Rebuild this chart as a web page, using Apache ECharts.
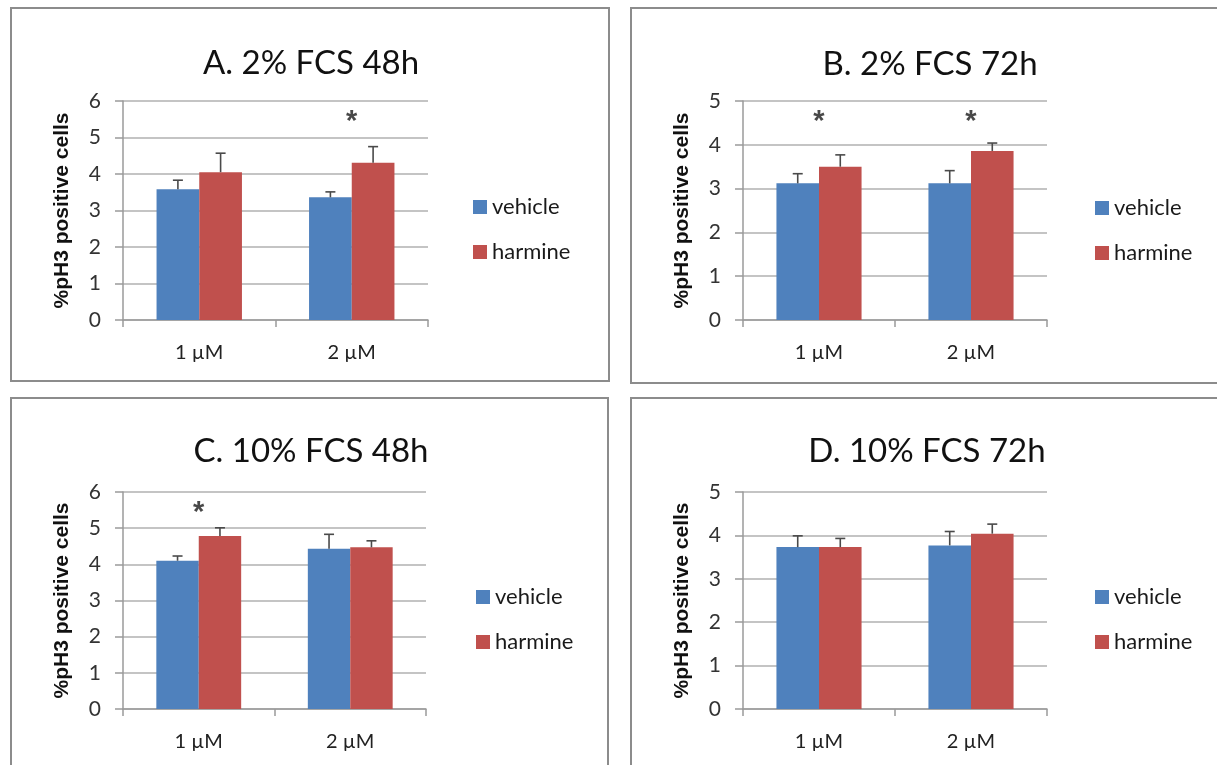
<!DOCTYPE html>
<html>
<head>
<meta charset="utf-8">
<script src="https://cdn.jsdelivr.net/npm/echarts@6/dist/echarts.min.js"></script>
<style>
  html, body { margin: 0; padding: 0; background: #fff; }
  #main { width: 1217px; height: 765px; }
</style>
</head>
<body>
<div id="main"></div>
<script>
// data
var categories = ['1 µM', '2 µM'];
var panelTitles = ['A. 2% FCS 48h', 'B. 2% FCS 72h', 'C. 10% FCS 48h', 'D. 10% FCS 72h'];
var yMax = [6, 5, 6, 5];
var vehicleMean = [[3.58, 3.36], [3.12, 3.12], [4.10, 4.43], [3.73, 3.77]];
var vehicleErr = [[0.25, 0.15], [0.22, 0.29], [0.13, 0.40], [0.26, 0.32]];
var harmineMean = [[4.05, 4.31], [3.50, 3.86], [4.78, 4.47], [3.73, 4.04]];
var harmineErr = [[0.52, 0.44], [0.27, 0.18], [0.23, 0.18], [0.20, 0.22]];
// significance stars: y position per category (null = no star)
var starY = [[null, 5.55], [4.64, 4.64], [5.57, null], [null, null]];

var BLUE = '#4F81BD', RED = '#C0504D';
var calibriLike = 'Lato, "Open Sans", sans-serif';

// layout of each panel (pixels)
var grids = [
  { left: 123, top: 101, width: 305, height: 219 },
  { left: 743, top: 101, width: 304, height: 219 },
  { left: 123, top: 492, width: 303, height: 217 },
  { left: 743, top: 492, width: 304, height: 217 }
];
var titlePos = [[306, 42], [925, 43], [306, 430], [922, 430]];
var legendPos = [[468, 191], [1090, 192], [471, 581], [1090, 581]];
var boxes = [[11, 8, 598, 373], [631, 8, 600, 375], [11, 398, 597, 400], [631, 398, 600, 400]];

var chart = echarts.init(document.getElementById('main'));

//error bar drawn above the bar, shifted to the bar's centre
function errRender(side) {
  return function (params, api) {
    var idx = api.value(0);
    var lo = api.coord([idx, api.value(1)]);
    var hi = api.coord([idx, api.value(2)]);
    var bw = api.size([1, 0])[0];
    var cx = lo[0] + side * bw * 0.14;
    var cap = 5;
    var st = { stroke: '#4a4a4a', lineWidth: 1.6 };
    return {
      type: 'group',
      children: [
        { type: 'line', shape: { x1: cx, y1: lo[1], x2: cx, y2: hi[1] }, style: st },
        { type: 'line', shape: { x1: cx - cap, y1: hi[1], x2: cx + cap, y2: hi[1] }, style: st }
      ]
    };
  };
}

var option = {
  animation: false,
  backgroundColor: '#fff',
  title: [],
  legend: [],
  grid: [],
  xAxis: [],
  yAxis: [],
  series: [],
  graphic: []
};

for (let i = 0; i < 4; i++) {
  option.grid.push(Object.assign({ outerBoundsMode: 'none', containLabel: false }, grids[i]));
  option.title.push({
    text: panelTitles[i],
    left: titlePos[i][0],
    top: titlePos[i][1],
    textAlign: 'center',
    textStyle: { fontFamily: calibriLike, fontSize: 33, fontWeight: 'normal', color: '#111' }
  });
  option.legend.push({
    data: ['vehicle', 'harmine'],
    orient: 'vertical',
    left: legendPos[i][0],
    top: legendPos[i][1],
    icon: 'rect',
    itemWidth: 14,
    itemHeight: 14,
    itemGap: 23,
    selectedMode: false,
    textStyle: { fontFamily: calibriLike, fontSize: 22, color: '#1a1a1a' }
  });
  option.xAxis.push({
    type: 'category',
    gridIndex: i,
    data: categories,
    axisLine: { lineStyle: { color: '#9a9a9a', width: 1.5 } },
    axisTick: { show: true, length: 7, lineStyle: { color: '#9a9a9a', width: 1.5 } },
    axisLabel: { margin: 23, fontFamily: calibriLike, fontSize: 20, color: '#222' },
    splitLine: { show: false }
  });
  option.yAxis.push({
    type: 'value',
    gridIndex: i,
    min: 0,
    max: yMax[i],
    interval: 1,
    name: '%pH3 positive cells',
    nameLocation: 'middle',
    nameGap: 50,
    nameTextStyle: { fontFamily: '"Liberation Sans", Arial, sans-serif', fontWeight: 'bold', fontSize: 21, color: '#111' },
    axisLine: { show: true, lineStyle: { color: '#9a9a9a', width: 1.5 } },
    axisTick: { show: true, length: 8, lineStyle: { color: '#9a9a9a', width: 1.5 } },
    axisLabel: { margin: 22, fontFamily: calibriLike, fontSize: 21, color: '#333' },
    splitLine: { show: true, lineStyle: { color: '#b0b0b0', width: 1.6 } }
  });

  option.series.push({
    name: 'vehicle', type: 'bar', xAxisIndex: i, yAxisIndex: i,
    data: vehicleMean[i], itemStyle: { color: BLUE },
    barGap: '0%', barCategoryGap: '44%'
  });
  option.series.push({
    name: 'harmine', type: 'bar', xAxisIndex: i, yAxisIndex: i,
    data: harmineMean[i], itemStyle: { color: RED },
    barGap: '0%', barCategoryGap: '44%'
  });
  option.series.push({
    name: 'vehicle-err-' + i, type: 'custom', xAxisIndex: i, yAxisIndex: i, z: 5,
    renderItem: errRender(-1),
    encode: { x: 0, y: [1, 2] },
    data: vehicleMean[i].map((m, k) => [k, m, m + vehicleErr[i][k]])
  });
  option.series.push({
    name: 'harmine-err-' + i, type: 'custom', xAxisIndex: i, yAxisIndex: i, z: 5,
    renderItem: errRender(1),
    encode: { x: 0, y: [1, 2] },
    data: harmineMean[i].map((m, k) => [k, m, m + harmineErr[i][k]])
  });

  var stars = [];
  starY[i].forEach((v, k) => { if (v != null) stars.push([k, v]); });
  if (stars.length) {
    option.series.push({
      name: 'star-' + i, type: 'scatter', xAxisIndex: i, yAxisIndex: i, z: 6,
      symbolSize: 1,
      itemStyle: { color: 'rgba(0,0,0,0)' },
      label: {
        show: true, position: 'inside', formatter: '*',
        fontFamily: '"Liberation Sans", Arial, sans-serif', fontSize: 29, fontWeight: 'bold', color: '#1a1a1a',
        offset: [0, 5]
      },
      data: stars
    });
  }

  option.graphic.push({
    type: 'rect',
    shape: { x: boxes[i][0], y: boxes[i][1], width: boxes[i][2], height: boxes[i][3] },
    style: { fill: null, stroke: '#8c8c8c', lineWidth: 2 },
    silent: true, z: -1
  });
}

chart.setOption(option);
</script>
</body>
</html>
